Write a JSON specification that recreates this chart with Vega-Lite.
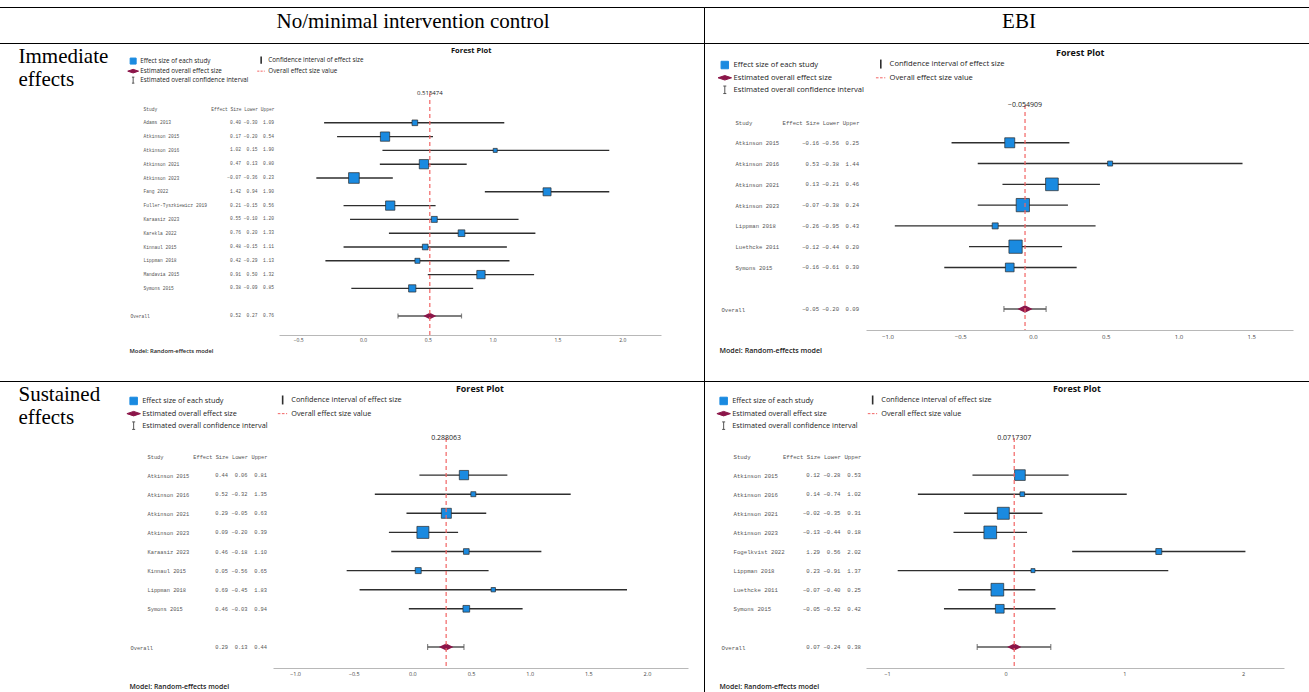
{
  "$schema": "https://vega.github.io/schema/vega-lite/v6.json",
  "padding": {"left": -11, "top": 6, "right": -3, "bottom": -3},
  "bounds": "flush",
  "spacing": 0,
  "columns": 2,
  "config": {
    "view": {"stroke": "#000", "strokeWidth": 1},
    "axis": {"grid": false},
    "legend": {"padding": 0}
  },
  "datasets": {
    "forest": [
      {"panel": "TL", "study": "Adams 2013", "es": 0.40, "lo": -0.30, "hi": 1.09, "weight": 4.3},
      {"panel": "TL", "study": "Atkinson 2015", "es": 0.17, "lo": -0.20, "hi": 0.54, "weight": 11.6},
      {"panel": "TL", "study": "Atkinson 2016", "es": 1.02, "lo": 0.15, "hi": 1.90, "weight": 2.2},
      {"panel": "TL", "study": "Atkinson 2021", "es": 0.47, "lo": 0.13, "hi": 0.80, "weight": 11.6},
      {"panel": "TL", "study": "Atkinson 2023", "es": -0.07, "lo": -0.36, "hi": 0.23, "weight": 15.3},
      {"panel": "TL", "study": "Fang 2022", "es": 1.42, "lo": 0.94, "hi": 1.90, "weight": 8.6},
      {"panel": "TL", "study": "Fuller-Tyszkiewicz 2019", "es": 0.21, "lo": -0.15, "hi": 0.56, "weight": 11.6},
      {"panel": "TL", "study": "Karaasiz 2023", "es": 0.55, "lo": -0.10, "hi": 1.20, "weight": 4.8},
      {"panel": "TL", "study": "Karekla 2022", "es": 0.76, "lo": 0.20, "hi": 1.33, "weight": 6.0},
      {"panel": "TL", "study": "Kinnaul 2015", "es": 0.48, "lo": -0.15, "hi": 1.11, "weight": 4.3},
      {"panel": "TL", "study": "Lippman 2018", "es": 0.42, "lo": -0.29, "hi": 1.13, "weight": 3.4},
      {"panel": "TL", "study": "Mandavia 2015", "es": 0.91, "lo": 0.50, "hi": 1.32, "weight": 9.3},
      {"panel": "TL", "study": "Symons 2015", "es": 0.38, "lo": -0.09, "hi": 0.85, "weight": 7.1},
      {"panel": "TL", "study": "Overall", "es": 0.515474, "lo": 0.27, "hi": 0.76},
      {"panel": "TR", "study": "Atkinson 2015", "es": -0.16, "lo": -0.56, "hi": 0.25, "weight": 13.3},
      {"panel": "TR", "study": "Atkinson 2016", "es": 0.53, "lo": -0.38, "hi": 1.44, "weight": 3.3},
      {"panel": "TR", "study": "Atkinson 2021", "es": 0.13, "lo": -0.21, "hi": 0.46, "weight": 21.4},
      {"panel": "TR", "study": "Atkinson 2023", "es": -0.07, "lo": -0.38, "hi": 0.24, "weight": 23.5},
      {"panel": "TR", "study": "Lippman 2018", "es": -0.26, "lo": -0.95, "hi": 0.43, "weight": 4.8},
      {"panel": "TR", "study": "Luethcke 2011", "es": -0.12, "lo": -0.44, "hi": 0.20, "weight": 23.5},
      {"panel": "TR", "study": "Symons 2015", "es": -0.16, "lo": -0.61, "hi": 0.30, "weight": 10.1},
      {"panel": "TR", "study": "Overall", "es": -0.054909, "lo": -0.20, "hi": 0.09},
      {"panel": "BL", "study": "Atkinson 2015", "es": 0.44, "lo": 0.06, "hi": 0.81, "weight": 17.8},
      {"panel": "BL", "study": "Atkinson 2016", "es": 0.52, "lo": -0.32, "hi": 1.35, "weight": 5.1},
      {"panel": "BL", "study": "Atkinson 2021", "es": 0.29, "lo": -0.05, "hi": 0.63, "weight": 20.5},
      {"panel": "BL", "study": "Atkinson 2023", "es": 0.09, "lo": -0.20, "hi": 0.39, "weight": 29.5},
      {"panel": "BL", "study": "Karaasiz 2023", "es": 0.46, "lo": -0.18, "hi": 1.10, "weight": 6.6},
      {"panel": "BL", "study": "Kinnaul 2015", "es": 0.05, "lo": -0.56, "hi": 0.65, "weight": 7.4},
      {"panel": "BL", "study": "Lippman 2018", "es": 0.69, "lo": -0.45, "hi": 1.83, "weight": 3.9},
      {"panel": "BL", "study": "Symons 2015", "es": 0.46, "lo": -0.03, "hi": 0.94, "weight": 9.2},
      {"panel": "BL", "study": "Overall", "es": 0.288063, "lo": 0.13, "hi": 0.44},
      {"panel": "BR", "study": "Atkinson 2015", "es": 0.12, "lo": -0.28, "hi": 0.53, "weight": 15.6},
      {"panel": "BR", "study": "Atkinson 2016", "es": 0.14, "lo": -0.74, "hi": 1.02, "weight": 3.0},
      {"panel": "BR", "study": "Atkinson 2021", "es": -0.02, "lo": -0.35, "hi": 0.31, "weight": 19.7},
      {"panel": "BR", "study": "Atkinson 2023", "es": -0.13, "lo": -0.44, "hi": 0.18, "weight": 22.1},
      {"panel": "BR", "study": "Fogelkvist 2022", "es": 1.29, "lo": 0.56, "hi": 2.02, "weight": 4.9},
      {"panel": "BR", "study": "Lippman 2018", "es": 0.23, "lo": -0.91, "hi": 1.37, "weight": 2.2},
      {"panel": "BR", "study": "Luethcke 2011", "es": -0.07, "lo": -0.40, "hi": 0.25, "weight": 22.1},
      {"panel": "BR", "study": "Symons 2015", "es": -0.05, "lo": -0.52, "hi": 0.42, "weight": 10.4},
      {"panel": "BR", "study": "Overall", "es": 0.0717307, "lo": -0.24, "hi": 0.38}
    ],
    "headers": [
      {"column": "No/minimal intervention control"},
      {"column": "EBI"}
    ]
  },
  "resolve": {"scale": {"color": "independent", "size": "independent"}, "legend": {"color": "independent", "size": "independent"}},
  "concat": [
    {
      "width": 714, "height": 36,
      "view": {"stroke": "#000", "strokeWidth": 1},
      "data": {"name": "headers"},
      "transform": [{"filter": "datum.column === 'No/minimal intervention control'"}],
      "mark": {"type": "text", "font": "Liberation Serif", "fontSize": 21, "baseline": "alphabetic", "dy": 3, "dx": 66, "color": "#000"},
      "encoding": {"text": {"field": "column"}}
    },
    {
      "width": 607, "height": 36,
      "view": {"stroke": "#000", "strokeWidth": 1},
      "data": {"name": "headers"},
      "transform": [{"filter": "datum.column === 'EBI'"}],
      "mark": {"type": "text", "font": "Liberation Serif", "fontSize": 21, "baseline": "alphabetic", "dy": 3, "dx": 11.5, "color": "#000"},
      "encoding": {"text": {"field": "column"}}
    },
    {
      "width": 714, "height": 338,
      "title": {"text": "Forest Plot", "orient": "top", "anchor": "start", "frame": "group", "dx": 461, "offset": -15.5, "baseline": "middle", "font": "Open Sans", "fontSize": 7.5, "fontWeight": "bold", "color": "#111"},
      "resolve": {"scale": {"x": "independent"}, "axis": {"x": "independent"}},
      "layer": [
        {
          "layer": [
            {
              "data": {"name": "forest"},
              "transform": [{"filter": "datum.panel === 'TL' && datum.study !== 'Overall'"}],
              "mark": {"type": "rule", "strokeWidth": 1.4},
              "encoding": {
                "x": {"field": "lo", "type": "quantitative",
                  "scale": {"domain": [-0.648, 2.299], "range": [289, 671], "nice": false, "zero": false},
                  "axis": {"orient": "bottom", "values": [-0.5, 0, 0.5, 1, 1.5, 2], "format": ".1f", "offset": -46, "domainColor": "#b8b8b8", "domainWidth": 1, "ticks": false, "labelFont": "Open Sans", "labelFontSize": 5, "labelColor": "#444", "labelPadding": 2.5, "labelFlush": false, "labelOverlap": false,
                    "title": "Model: Random-effects model", "titleX": 139, "titleY": 15, "titleAlign": "left", "titleBaseline": "middle", "titleFont": "Open Sans", "titleFontSize": 5.8, "titleFontWeight": 600, "titleColor": "#222"}},
                "x2": {"field": "hi"},
                "y": {"field": "study", "type": "nominal",
                  "scale": {"type": "point", "domain": ["Study", "Adams 2013", "Atkinson 2015", "Atkinson 2016", "Atkinson 2021", "Atkinson 2023", "Fang 2022", "Fuller-Tyszkiewicz 2019", "Karaasiz 2023", "Karekla 2022", "Kinnaul 2015", "Lippman 2018", "Mandavia 2015", "Symons 2015", " ", "Overall"], "range": [66, 273], "padding": 0},
                  "axis": {"orient": "left", "offset": -153, "domain": false, "ticks": false, "tickSize": 0, "labelPadding": {"condition": {"test": "datum.value === 'Overall'", "value": 13}, "value": 0}, "labelAlign": "left", "labelBaseline": "middle", "labelFont": "Liberation Mono", "labelFontSize": 4.6, "labelColor": "#555", "labelOverlap": false, "labelLimit": 300,
                    "title": ["Immediate", "effects"], "titleAngle": 0, "titleAlign": "left", "titleBaseline": "alphabetic", "titleX": -125, "titleY": 19, "titleFont": "Liberation Serif", "titleFontSize": 21, "titleFontWeight": "normal", "titleColor": "#000", "titleLineHeight": 23}},
                "color": {"datum": "Confidence interval of effect size", "type": "nominal",
                  "scale": {"domain": ["Effect size of each study", "Estimated overall effect size", "Estimated overall confidence interval", "Confidence interval of effect size", "Overall effect size value"], "range": ["#1a8ae0", "#8b1549", "#555555", "#2e2e2e", "#f26464"]},
                  "legend": {"orient": "none", "legendX": 140, "legendY": 14, "title": null, "columns": 2, "columnPadding": 6, "rowPadding": 0, "symbolSize": 36, "labelFont": "Open Sans", "labelFontSize": 6.3, "labelColor": "#222", "labelOffset": 4, "labelLimit": 300,
                    "encode": {"symbols": {"update": {
                      "shape": {"signal": "datum.value === 'Effect size of each study' ? 'square' : datum.value === 'Estimated overall effect size' ? 'M-1.8,0L0,-0.6L1.8,0L0,0.6Z' : datum.value === 'Estimated overall confidence interval' ? 'M-0.4,-1H0.4M0,-1V1M-0.4,1H0.4' : datum.value === 'Confidence interval of effect size' ? 'M0,-1.2V1.2' : 'M-1.3,0H-0.6M-0.2,0H0.5M0.9,0H1.2'"},
                      "fill": {"signal": "datum.value === 'Effect size of each study' ? '#1a8ae0' : datum.value === 'Estimated overall effect size' ? '#8b1549' : 'transparent'"},
                      "stroke": {"signal": "datum.value === 'Effect size of each study' ? '#333333' : datum.value === 'Estimated overall effect size' ? '#8b1549' : datum.value === 'Overall effect size value' ? '#f26464' : '#333333'"},
                      "strokeWidth": {"signal": "datum.value === 'Confidence interval of effect size' ? 1.6 : 1"},
                      "opacity": {"value": 1}
                    }}}}}
              }
            },
            {
              "data": {"name": "forest"},
              "transform": [{"filter": "datum.panel === 'TL' && datum.study !== 'Overall'"}],
              "mark": {"type": "point", "shape": "square", "filled": true, "opacity": 1, "stroke": "#2a2a2a", "strokeWidth": 0.7},
              "encoding": {
                "x": {"field": "es", "type": "quantitative"},
                "y": {"field": "study", "type": "nominal"},
                "size": {"field": "weight", "type": "quantitative", "scale": {"domain": [0, 100], "range": [0, 744], "zero": true}, "legend": null},
                "color": {"datum": "Effect size of each study", "type": "nominal"}
              }
            },
            {
              "data": {"name": "forest"},
              "transform": [{"filter": "datum.panel === 'TL' && datum.study === 'Overall'"}],
              "mark": {"type": "rule", "strokeWidth": 1.5},
              "encoding": {
                "x": {"field": "lo", "type": "quantitative"},
                "x2": {"field": "hi"},
                "y": {"field": "study", "type": "nominal"},
                "color": {"datum": "Estimated overall confidence interval", "type": "nominal"}
              }
            },
            {
              "data": {"name": "forest"},
              "transform": [{"filter": "datum.panel === 'TL' && datum.study === 'Overall'"}, {"fold": ["lo", "hi"], "as": ["end", "endValue"]}],
              "mark": {"type": "tick", "orient": "vertical", "size": 5, "thickness": 1.2},
              "encoding": {
                "x": {"field": "endValue", "type": "quantitative"},
                "y": {"field": "study", "type": "nominal"},
                "color": {"datum": "Estimated overall confidence interval", "type": "nominal"}
              }
            },
            {
              "data": {"name": "forest"},
              "transform": [{"filter": "datum.panel === 'TL' && datum.study === 'Overall'"}],
              "mark": {"type": "point", "shape": "M-1,0L0,-0.5L1,0L0,0.5Z", "filled": true, "opacity": 1, "size": 169},
              "encoding": {
                "x": {"field": "es", "type": "quantitative"},
                "y": {"field": "study", "type": "nominal"},
                "color": {"datum": "Estimated overall effect size", "type": "nominal"}
              }
            },
            {
              "data": {"name": "forest"},
              "transform": [{"filter": "datum.panel === 'TL' && datum.study === 'Overall'"}],
              "mark": {"type": "rule", "strokeWidth": 1.2, "strokeDash": [4, 3], "yOffset": -16, "y2Offset": 19},
              "encoding": {
                "x": {"field": "es", "type": "quantitative"},
                "y": {"datum": "Study", "type": "nominal"},
                "y2": {"datum": "Overall"},
                "color": {"datum": "Overall effect size value", "type": "nominal"}
              }
            },
            {
              "data": {"name": "forest"},
              "transform": [{"filter": "datum.panel === 'TL' && datum.study === 'Overall'"}],
              "mark": {"type": "text", "yOffset": -16, "baseline": "middle", "align": "center", "font": "Open Sans", "fontSize": 6, "color": "#222"},
              "encoding": {
                "x": {"field": "es", "type": "quantitative"},
                "y": {"datum": "Study", "type": "nominal"},
                "text": {"field": "es", "type": "quantitative", "format": ".6~g"}
              }
            }
          ]
        },
        {
          "data": {"name": "forest"},
          "transform": [{"filter": "datum.panel === 'TL'"}, {"fold": ["es", "lo", "hi"], "as": ["col", "val"]}],
          "mark": {"type": "text", "align": "right", "baseline": "middle", "font": "Liberation Mono", "fontSize": 4.6, "color": "#555"},
          "encoding": {
            "x": {"field": "col", "type": "nominal", "scale": {"type": "point", "domain": ["es", "lo", "hi"], "range": [251, 284], "padding": 0},
              "axis": {"orient": "top", "offset": -66, "domain": false, "ticks": false, "tickSize": 0, "labelPadding": 0, "labelAlign": "right", "labelBaseline": "middle", "labelAngle": 0, "labelFont": "Liberation Mono", "labelFontSize": 4.6, "labelColor": "#555", "title": null,
                "labelExpr": "datum.value === 'es' ? 'Effect Size' : datum.value === 'lo' ? 'Lower' : 'Upper'"}},
            "y": {"field": "study", "type": "nominal"},
            "text": {"field": "val", "type": "quantitative", "format": ".2f"}
          }
        }
      ]
    },
    {
      "width": 607, "height": 338,
      "title": {"text": "Forest Plot", "orient": "top", "anchor": "start", "frame": "group", "dx": 352, "offset": -18.5, "baseline": "middle", "font": "Open Sans", "fontSize": 9, "fontWeight": "bold", "color": "#111"},
      "resolve": {"scale": {"x": "independent"}, "axis": {"x": "independent"}},
      "layer": [
        {
          "layer": [
            {
              "data": {"name": "forest"},
              "transform": [{"filter": "datum.panel === 'TR' && datum.study !== 'Overall'"}],
              "mark": {"type": "rule", "strokeWidth": 1.4},
              "encoding": {
                "x": {"field": "lo", "type": "quantitative",
                  "scale": {"domain": [-1.148, 1.787], "range": [162, 589], "nice": false, "zero": false},
                  "axis": {"orient": "bottom", "values": [-1, -0.5, 0, 0.5, 1, 1.5], "format": ".1f", "offset": -51, "domainColor": "#b8b8b8", "domainWidth": 1, "ticks": false, "labelFont": "Open Sans", "labelFontSize": 6, "labelColor": "#444", "labelPadding": 3, "labelFlush": false, "labelOverlap": false,
                    "title": "Model: Random-effects model", "titleX": 15, "titleY": 20, "titleAlign": "left", "titleBaseline": "middle", "titleFont": "Open Sans", "titleFontSize": 7.1, "titleFontWeight": 600, "titleColor": "#222"}},
                "x2": {"field": "hi"},
                "y": {"field": "study", "type": "nominal",
                  "scale": {"type": "point", "domain": ["Study", "Atkinson 2015", "Atkinson 2016", "Atkinson 2021", "Atkinson 2023", "Lippman 2018", "Luethcke 2011", "Symons 2015", " ", "Overall"], "range": [79, 266], "padding": 0},
                  "axis": {"orient": "left", "offset": -31, "domain": false, "ticks": false, "tickSize": 0, "labelPadding": {"condition": {"test": "datum.value === 'Overall'", "value": 14}, "value": 0}, "labelAlign": "left", "labelBaseline": "middle", "labelFont": "Liberation Mono", "labelFontSize": 5.6, "labelColor": "#555", "labelOverlap": false, "labelLimit": 300, "title": null}},
                "color": {"datum": "Confidence interval of effect size", "type": "nominal",
                  "scale": {"domain": ["Effect size of each study", "Estimated overall effect size", "Estimated overall confidence interval", "Confidence interval of effect size", "Overall effect size value"], "range": ["#1a8ae0", "#8b1549", "#555555", "#2e2e2e", "#f26464"]},
                  "legend": {"orient": "none", "legendX": 17, "legendY": 17, "title": null, "columns": 2, "columnPadding": 8, "rowPadding": 1, "symbolSize": 56, "labelFont": "Open Sans", "labelFontSize": 7.6, "labelColor": "#222", "labelOffset": 5, "labelLimit": 300,
                    "encode": {"symbols": {"update": {
                      "shape": {"signal": "datum.value === 'Effect size of each study' ? 'square' : datum.value === 'Estimated overall effect size' ? 'M-1.8,0L0,-0.6L1.8,0L0,0.6Z' : datum.value === 'Estimated overall confidence interval' ? 'M-0.4,-1H0.4M0,-1V1M-0.4,1H0.4' : datum.value === 'Confidence interval of effect size' ? 'M0,-1.2V1.2' : 'M-1.3,0H-0.6M-0.2,0H0.5M0.9,0H1.2'"},
                      "fill": {"signal": "datum.value === 'Effect size of each study' ? '#1a8ae0' : datum.value === 'Estimated overall effect size' ? '#8b1549' : 'transparent'"},
                      "stroke": {"signal": "datum.value === 'Effect size of each study' ? '#333333' : datum.value === 'Estimated overall effect size' ? '#8b1549' : datum.value === 'Overall effect size value' ? '#f26464' : '#333333'"},
                      "strokeWidth": {"signal": "datum.value === 'Confidence interval of effect size' ? 1.6 : 1"},
                      "opacity": {"value": 1}
                    }}}}}
              }
            },
            {
              "data": {"name": "forest"},
              "transform": [{"filter": "datum.panel === 'TR' && datum.study !== 'Overall'"}],
              "mark": {"type": "point", "shape": "square", "filled": true, "opacity": 1, "stroke": "#2a2a2a", "strokeWidth": 0.7},
              "encoding": {
                "x": {"field": "es", "type": "quantitative"},
                "y": {"field": "study", "type": "nominal"},
                "size": {"field": "weight", "type": "quantitative", "scale": {"domain": [0, 100], "range": [0, 752], "zero": true}, "legend": null},
                "color": {"datum": "Effect size of each study", "type": "nominal"}
              }
            },
            {
              "data": {"name": "forest"},
              "transform": [{"filter": "datum.panel === 'TR' && datum.study === 'Overall'"}],
              "mark": {"type": "rule", "strokeWidth": 1.5},
              "encoding": {
                "x": {"field": "lo", "type": "quantitative"},
                "x2": {"field": "hi"},
                "y": {"field": "study", "type": "nominal"},
                "color": {"datum": "Estimated overall confidence interval", "type": "nominal"}
              }
            },
            {
              "data": {"name": "forest"},
              "transform": [{"filter": "datum.panel === 'TR' && datum.study === 'Overall'"}, {"fold": ["lo", "hi"], "as": ["end", "endValue"]}],
              "mark": {"type": "tick", "orient": "vertical", "size": 6, "thickness": 1.2},
              "encoding": {
                "x": {"field": "endValue", "type": "quantitative"},
                "y": {"field": "study", "type": "nominal"},
                "color": {"datum": "Estimated overall confidence interval", "type": "nominal"}
              }
            },
            {
              "data": {"name": "forest"},
              "transform": [{"filter": "datum.panel === 'TR' && datum.study === 'Overall'"}],
              "mark": {"type": "point", "shape": "M-1,0L0,-0.5L1,0L0,0.5Z", "filled": true, "opacity": 1, "size": 225},
              "encoding": {
                "x": {"field": "es", "type": "quantitative"},
                "y": {"field": "study", "type": "nominal"},
                "color": {"datum": "Estimated overall effect size", "type": "nominal"}
              }
            },
            {
              "data": {"name": "forest"},
              "transform": [{"filter": "datum.panel === 'TR' && datum.study === 'Overall'"}],
              "mark": {"type": "rule", "strokeWidth": 1.2, "strokeDash": [4, 3], "yOffset": -17, "y2Offset": 21},
              "encoding": {
                "x": {"field": "es", "type": "quantitative"},
                "y": {"datum": "Study", "type": "nominal"},
                "y2": {"datum": "Overall"},
                "color": {"datum": "Overall effect size value", "type": "nominal"}
              }
            },
            {
              "data": {"name": "forest"},
              "transform": [{"filter": "datum.panel === 'TR' && datum.study === 'Overall'"}],
              "mark": {"type": "text", "yOffset": -17, "baseline": "middle", "align": "center", "font": "Open Sans", "fontSize": 7, "color": "#222"},
              "encoding": {
                "x": {"field": "es", "type": "quantitative"},
                "y": {"datum": "Study", "type": "nominal"},
                "text": {"field": "es", "type": "quantitative", "format": ".6~g"}
              }
            }
          ]
        },
        {
          "data": {"name": "forest"},
          "transform": [{"filter": "datum.panel === 'TR'"}, {"fold": ["es", "lo", "hi"], "as": ["col", "val"]}],
          "mark": {"type": "text", "align": "right", "baseline": "middle", "font": "Liberation Mono", "fontSize": 5.6, "color": "#555"},
          "encoding": {
            "x": {"field": "col", "type": "nominal", "scale": {"type": "point", "domain": ["es", "lo", "hi"], "range": [115, 155], "padding": 0},
              "axis": {"orient": "top", "offset": -79, "domain": false, "ticks": false, "tickSize": 0, "labelPadding": 0, "labelAlign": "right", "labelBaseline": "middle", "labelAngle": 0, "labelFont": "Liberation Mono", "labelFontSize": 5.6, "labelColor": "#555", "title": null,
                "labelExpr": "datum.value === 'es' ? 'Effect Size' : datum.value === 'lo' ? 'Lower' : 'Upper'"}},
            "y": {"field": "study", "type": "nominal"},
            "text": {"field": "val", "type": "quantitative", "format": ".2f"}
          }
        }
      ]
    },
    {
      "width": 714, "height": 313,
      "title": {"text": "Forest Plot", "orient": "top", "anchor": "start", "frame": "group", "dx": 466, "offset": -16.5, "baseline": "middle", "font": "Open Sans", "fontSize": 8.9, "fontWeight": "bold", "color": "#111"},
      "resolve": {"scale": {"x": "independent"}, "axis": {"x": "independent"}},
      "layer": [
        {
          "layer": [
            {
              "data": {"name": "forest"},
              "transform": [{"filter": "datum.panel === 'BL' && datum.study !== 'Overall'"}],
              "mark": {"type": "rule", "strokeWidth": 1.4},
              "encoding": {
                "x": {"field": "lo", "type": "quantitative",
                  "scale": {"domain": [-1.188, 2.35], "range": [283, 698], "nice": false, "zero": false},
                  "axis": {"orient": "bottom", "values": [-1, -0.5, 0, 0.5, 1, 1.5, 2], "format": ".1f", "offset": -26, "domainColor": "#b8b8b8", "domainWidth": 1, "ticks": false, "labelFont": "Open Sans", "labelFontSize": 5.5, "labelColor": "#444", "labelPadding": 3, "labelFlush": false, "labelOverlap": false,
                    "title": "Model: Random-effects model", "titleX": 139, "titleY": 18, "titleAlign": "left", "titleBaseline": "middle", "titleFont": "Open Sans", "titleFontSize": 6.9, "titleFontWeight": 600, "titleColor": "#222"}},
                "x2": {"field": "hi"},
                "y": {"field": "study", "type": "nominal",
                  "scale": {"type": "point", "domain": ["Study", "Atkinson 2015", "Atkinson 2016", "Atkinson 2021", "Atkinson 2023", "Karaasiz 2023", "Kinnaul 2015", "Lippman 2018", "Symons 2015", " ", "Overall"], "range": [75, 266], "padding": 0},
                  "axis": {"orient": "left", "offset": -157, "domain": false, "ticks": false, "tickSize": 0, "labelPadding": {"condition": {"test": "datum.value === 'Overall'", "value": 17}, "value": 0}, "labelAlign": "left", "labelBaseline": "middle", "labelFont": "Liberation Mono", "labelFontSize": 5.35, "labelColor": "#555", "labelOverlap": false, "labelLimit": 300,
                    "title": ["Sustained", "effects"], "titleAngle": 0, "titleAlign": "left", "titleBaseline": "alphabetic", "titleX": -129, "titleY": 19, "titleFont": "Liberation Serif", "titleFontSize": 21, "titleFontWeight": "normal", "titleColor": "#000", "titleLineHeight": 23}},
                "color": {"datum": "Confidence interval of effect size", "type": "nominal",
                  "scale": {"domain": ["Effect size of each study", "Estimated overall effect size", "Estimated overall confidence interval", "Confidence interval of effect size", "Overall effect size value"], "range": ["#1a8ae0", "#8b1549", "#555555", "#2e2e2e", "#f26464"]},
                  "legend": {"orient": "none", "legendX": 140, "legendY": 15, "title": null, "columns": 2, "columnPadding": 7, "rowPadding": 1, "symbolSize": 56, "labelFont": "Open Sans", "labelFontSize": 7.3, "labelColor": "#222", "labelOffset": 5, "labelLimit": 300,
                    "encode": {"symbols": {"update": {
                      "shape": {"signal": "datum.value === 'Effect size of each study' ? 'square' : datum.value === 'Estimated overall effect size' ? 'M-1.8,0L0,-0.6L1.8,0L0,0.6Z' : datum.value === 'Estimated overall confidence interval' ? 'M-0.4,-1H0.4M0,-1V1M-0.4,1H0.4' : datum.value === 'Confidence interval of effect size' ? 'M0,-1.2V1.2' : 'M-1.3,0H-0.6M-0.2,0H0.5M0.9,0H1.2'"},
                      "fill": {"signal": "datum.value === 'Effect size of each study' ? '#1a8ae0' : datum.value === 'Estimated overall effect size' ? '#8b1549' : 'transparent'"},
                      "stroke": {"signal": "datum.value === 'Effect size of each study' ? '#333333' : datum.value === 'Estimated overall effect size' ? '#8b1549' : datum.value === 'Overall effect size value' ? '#f26464' : '#333333'"},
                      "strokeWidth": {"signal": "datum.value === 'Confidence interval of effect size' ? 1.6 : 1"},
                      "opacity": {"value": 1}
                    }}}}}
              }
            },
            {
              "data": {"name": "forest"},
              "transform": [{"filter": "datum.panel === 'BL' && datum.study !== 'Overall'"}],
              "mark": {"type": "point", "shape": "square", "filled": true, "opacity": 1, "stroke": "#2a2a2a", "strokeWidth": 0.7},
              "encoding": {
                "x": {"field": "es", "type": "quantitative"},
                "y": {"field": "study", "type": "nominal"},
                "size": {"field": "weight", "type": "quantitative", "scale": {"domain": [0, 100], "range": [0, 488], "zero": true}, "legend": null},
                "color": {"datum": "Effect size of each study", "type": "nominal"}
              }
            },
            {
              "data": {"name": "forest"},
              "transform": [{"filter": "datum.panel === 'BL' && datum.study === 'Overall'"}],
              "mark": {"type": "rule", "strokeWidth": 1.5},
              "encoding": {
                "x": {"field": "lo", "type": "quantitative"},
                "x2": {"field": "hi"},
                "y": {"field": "study", "type": "nominal"},
                "color": {"datum": "Estimated overall confidence interval", "type": "nominal"}
              }
            },
            {
              "data": {"name": "forest"},
              "transform": [{"filter": "datum.panel === 'BL' && datum.study === 'Overall'"}, {"fold": ["lo", "hi"], "as": ["end", "endValue"]}],
              "mark": {"type": "tick", "orient": "vertical", "size": 6, "thickness": 1.2},
              "encoding": {
                "x": {"field": "endValue", "type": "quantitative"},
                "y": {"field": "study", "type": "nominal"},
                "color": {"datum": "Estimated overall confidence interval", "type": "nominal"}
              }
            },
            {
              "data": {"name": "forest"},
              "transform": [{"filter": "datum.panel === 'BL' && datum.study === 'Overall'"}],
              "mark": {"type": "point", "shape": "M-1,0L0,-0.5L1,0L0,0.5Z", "filled": true, "opacity": 1, "size": 210},
              "encoding": {
                "x": {"field": "es", "type": "quantitative"},
                "y": {"field": "study", "type": "nominal"},
                "color": {"datum": "Estimated overall effect size", "type": "nominal"}
              }
            },
            {
              "data": {"name": "forest"},
              "transform": [{"filter": "datum.panel === 'BL' && datum.study === 'Overall'"}],
              "mark": {"type": "rule", "strokeWidth": 1.2, "strokeDash": [4, 3], "yOffset": -18, "y2Offset": 21},
              "encoding": {
                "x": {"field": "es", "type": "quantitative"},
                "y": {"datum": "Study", "type": "nominal"},
                "y2": {"datum": "Overall"},
                "color": {"datum": "Overall effect size value", "type": "nominal"}
              }
            },
            {
              "data": {"name": "forest"},
              "transform": [{"filter": "datum.panel === 'BL' && datum.study === 'Overall'"}],
              "mark": {"type": "text", "yOffset": -18, "baseline": "middle", "align": "center", "font": "Open Sans", "fontSize": 7, "color": "#222"},
              "encoding": {
                "x": {"field": "es", "type": "quantitative"},
                "y": {"datum": "Study", "type": "nominal"},
                "text": {"field": "es", "type": "quantitative", "format": ".6~g"}
              }
            }
          ]
        },
        {
          "data": {"name": "forest"},
          "transform": [{"filter": "datum.panel === 'BL'"}, {"fold": ["es", "lo", "hi"], "as": ["col", "val"]}],
          "mark": {"type": "text", "align": "right", "baseline": "middle", "font": "Liberation Mono", "fontSize": 5.35, "color": "#555"},
          "encoding": {
            "x": {"field": "col", "type": "nominal", "scale": {"type": "point", "domain": ["es", "lo", "hi"], "range": [238, 277], "padding": 0},
              "axis": {"orient": "top", "offset": -75, "domain": false, "ticks": false, "tickSize": 0, "labelPadding": 0, "labelAlign": "right", "labelBaseline": "middle", "labelAngle": 0, "labelFont": "Liberation Mono", "labelFontSize": 5.35, "labelColor": "#555", "title": null,
                "labelExpr": "datum.value === 'es' ? 'Effect Size' : datum.value === 'lo' ? 'Lower' : 'Upper'"}},
            "y": {"field": "study", "type": "nominal"},
            "text": {"field": "val", "type": "quantitative", "format": ".2f"}
          }
        }
      ]
    },
    {
      "width": 607, "height": 313,
      "title": {"text": "Forest Plot", "orient": "top", "anchor": "start", "frame": "group", "dx": 349, "offset": -16.5, "baseline": "middle", "font": "Open Sans", "fontSize": 8.9, "fontWeight": "bold", "color": "#111"},
      "resolve": {"scale": {"x": "independent"}, "axis": {"x": "independent"}},
      "layer": [
        {
          "layer": [
            {
              "data": {"name": "forest"},
              "transform": [{"filter": "datum.panel === 'BR' && datum.study !== 'Overall'"}],
              "mark": {"type": "rule", "strokeWidth": 1.4},
              "encoding": {
                "x": {"field": "lo", "type": "quantitative",
                  "scale": {"domain": [-1.177, 2.345], "range": [162, 580], "nice": false, "zero": false},
                  "axis": {"orient": "bottom", "values": [-1, 0, 1, 2], "format": "d", "offset": -26, "domainColor": "#b8b8b8", "domainWidth": 1, "ticks": false, "labelFont": "Open Sans", "labelFontSize": 5.5, "labelColor": "#444", "labelPadding": 3, "labelFlush": false, "labelOverlap": false,
                    "title": "Model: Random-effects model", "titleX": 15, "titleY": 18, "titleAlign": "left", "titleBaseline": "middle", "titleFont": "Open Sans", "titleFontSize": 6.9, "titleFontWeight": 600, "titleColor": "#222"}},
                "x2": {"field": "hi"},
                "y": {"field": "study", "type": "nominal",
                  "scale": {"type": "point", "domain": ["Study", "Atkinson 2015", "Atkinson 2016", "Atkinson 2021", "Atkinson 2023", "Fogelkvist 2022", "Lippman 2018", "Luethcke 2011", "Symons 2015", " ", "Overall"], "range": [75, 266], "padding": 0},
                  "axis": {"orient": "left", "offset": -29, "domain": false, "ticks": false, "tickSize": 0, "labelPadding": {"condition": {"test": "datum.value === 'Overall'", "value": 12}, "value": 0}, "labelAlign": "left", "labelBaseline": "middle", "labelFont": "Liberation Mono", "labelFontSize": 5.7, "labelColor": "#555", "labelOverlap": false, "labelLimit": 300, "title": null}},
                "color": {"datum": "Confidence interval of effect size", "type": "nominal",
                  "scale": {"domain": ["Effect size of each study", "Estimated overall effect size", "Estimated overall confidence interval", "Confidence interval of effect size", "Overall effect size value"], "range": ["#1a8ae0", "#8b1549", "#555555", "#2e2e2e", "#f26464"]},
                  "legend": {"orient": "none", "legendX": 16, "legendY": 15, "title": null, "columns": 2, "columnPadding": 7, "rowPadding": 1, "symbolSize": 56, "labelFont": "Open Sans", "labelFontSize": 7.3, "labelColor": "#222", "labelOffset": 5, "labelLimit": 300,
                    "encode": {"symbols": {"update": {
                      "shape": {"signal": "datum.value === 'Effect size of each study' ? 'square' : datum.value === 'Estimated overall effect size' ? 'M-1.8,0L0,-0.6L1.8,0L0,0.6Z' : datum.value === 'Estimated overall confidence interval' ? 'M-0.4,-1H0.4M0,-1V1M-0.4,1H0.4' : datum.value === 'Confidence interval of effect size' ? 'M0,-1.2V1.2' : 'M-1.3,0H-0.6M-0.2,0H0.5M0.9,0H1.2'"},
                      "fill": {"signal": "datum.value === 'Effect size of each study' ? '#1a8ae0' : datum.value === 'Estimated overall effect size' ? '#8b1549' : 'transparent'"},
                      "stroke": {"signal": "datum.value === 'Effect size of each study' ? '#333333' : datum.value === 'Estimated overall effect size' ? '#8b1549' : datum.value === 'Overall effect size value' ? '#f26464' : '#333333'"},
                      "strokeWidth": {"signal": "datum.value === 'Confidence interval of effect size' ? 1.6 : 1"},
                      "opacity": {"value": 1}
                    }}}}}
              }
            },
            {
              "data": {"name": "forest"},
              "transform": [{"filter": "datum.panel === 'BR' && datum.study !== 'Overall'"}],
              "mark": {"type": "point", "shape": "square", "filled": true, "opacity": 1, "stroke": "#2a2a2a", "strokeWidth": 0.7},
              "encoding": {
                "x": {"field": "es", "type": "quantitative"},
                "y": {"field": "study", "type": "nominal"},
                "size": {"field": "weight", "type": "quantitative", "scale": {"domain": [0, 100], "range": [0, 730], "zero": true}, "legend": null},
                "color": {"datum": "Effect size of each study", "type": "nominal"}
              }
            },
            {
              "data": {"name": "forest"},
              "transform": [{"filter": "datum.panel === 'BR' && datum.study === 'Overall'"}],
              "mark": {"type": "rule", "strokeWidth": 1.5},
              "encoding": {
                "x": {"field": "lo", "type": "quantitative"},
                "x2": {"field": "hi"},
                "y": {"field": "study", "type": "nominal"},
                "color": {"datum": "Estimated overall confidence interval", "type": "nominal"}
              }
            },
            {
              "data": {"name": "forest"},
              "transform": [{"filter": "datum.panel === 'BR' && datum.study === 'Overall'"}, {"fold": ["lo", "hi"], "as": ["end", "endValue"]}],
              "mark": {"type": "tick", "orient": "vertical", "size": 6, "thickness": 1.2},
              "encoding": {
                "x": {"field": "endValue", "type": "quantitative"},
                "y": {"field": "study", "type": "nominal"},
                "color": {"datum": "Estimated overall confidence interval", "type": "nominal"}
              }
            },
            {
              "data": {"name": "forest"},
              "transform": [{"filter": "datum.panel === 'BR' && datum.study === 'Overall'"}],
              "mark": {"type": "point", "shape": "M-1,0L0,-0.5L1,0L0,0.5Z", "filled": true, "opacity": 1, "size": 200},
              "encoding": {
                "x": {"field": "es", "type": "quantitative"},
                "y": {"field": "study", "type": "nominal"},
                "color": {"datum": "Estimated overall effect size", "type": "nominal"}
              }
            },
            {
              "data": {"name": "forest"},
              "transform": [{"filter": "datum.panel === 'BR' && datum.study === 'Overall'"}],
              "mark": {"type": "rule", "strokeWidth": 1.2, "strokeDash": [4, 3], "yOffset": -18, "y2Offset": 21},
              "encoding": {
                "x": {"field": "es", "type": "quantitative"},
                "y": {"datum": "Study", "type": "nominal"},
                "y2": {"datum": "Overall"},
                "color": {"datum": "Overall effect size value", "type": "nominal"}
              }
            },
            {
              "data": {"name": "forest"},
              "transform": [{"filter": "datum.panel === 'BR' && datum.study === 'Overall'"}],
              "mark": {"type": "text", "yOffset": -18, "baseline": "middle", "align": "center", "font": "Open Sans", "fontSize": 7, "color": "#222"},
              "encoding": {
                "x": {"field": "es", "type": "quantitative"},
                "y": {"datum": "Study", "type": "nominal"},
                "text": {"field": "es", "type": "quantitative", "format": ".6~g"}
              }
            }
          ]
        },
        {
          "data": {"name": "forest"},
          "transform": [{"filter": "datum.panel === 'BR'"}, {"fold": ["es", "lo", "hi"], "as": ["col", "val"]}],
          "mark": {"type": "text", "align": "right", "baseline": "middle", "font": "Liberation Mono", "fontSize": 5.7, "color": "#555"},
          "encoding": {
            "x": {"field": "col", "type": "nominal", "scale": {"type": "point", "domain": ["es", "lo", "hi"], "range": [116, 157], "padding": 0},
              "axis": {"orient": "top", "offset": -75, "domain": false, "ticks": false, "tickSize": 0, "labelPadding": 0, "labelAlign": "right", "labelBaseline": "middle", "labelAngle": 0, "labelFont": "Liberation Mono", "labelFontSize": 5.7, "labelColor": "#555", "title": null,
                "labelExpr": "datum.value === 'es' ? 'Effect Size' : datum.value === 'lo' ? 'Lower' : 'Upper'"}},
            "y": {"field": "study", "type": "nominal"},
            "text": {"field": "val", "type": "quantitative", "format": ".2f"}
          }
        }
      ]
    }
  ]
}
